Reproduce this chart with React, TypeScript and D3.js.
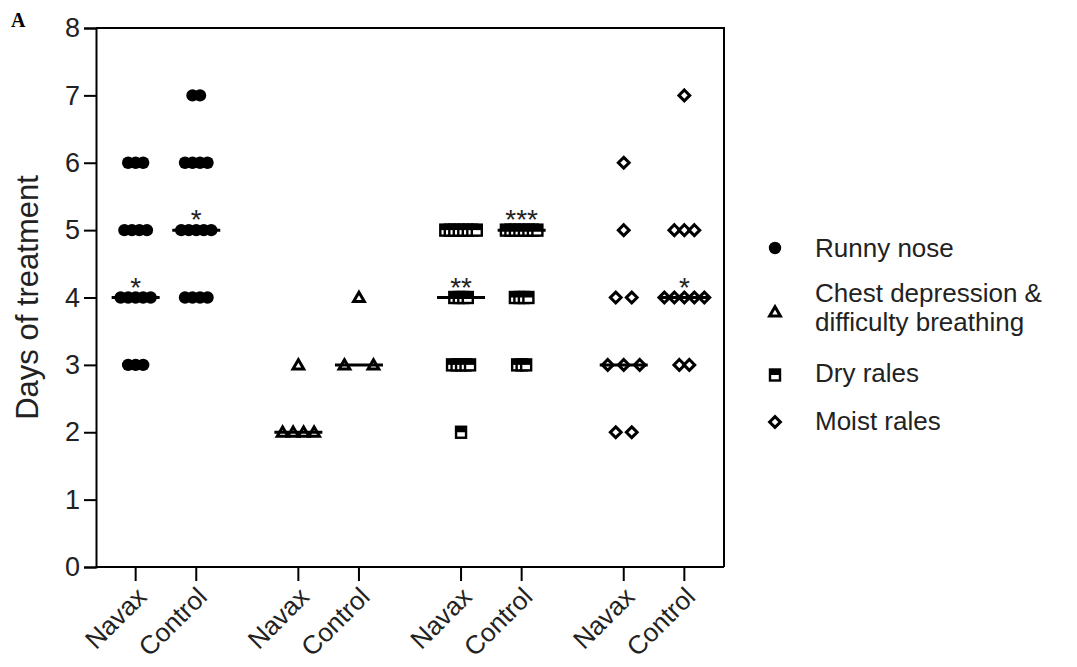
import React, { useEffect, useRef } from 'react';
import * as d3 from 'd3';

// symptom groups and arms, in the order they sit on the x axis
const groups = ['Runny nose', 'Chest depression & difficulty breathing', 'Dry rales', 'Moist rales'];
const arms = ['Navax', 'Control'];
const markers = ['circle', 'triangle', 'square', 'diamond'];

// days of treatment per animal
const runnyNavax = [6, 6, 6, 5, 5, 5, 5, 4, 4, 4, 4, 4, 3, 3, 3];
const runnyControl = [7, 7, 6, 6, 6, 6, 5, 5, 5, 5, 5, 4, 4, 4, 4];
const chestNavax = [3, 2, 2, 2, 2];
const chestControl = [4, 3, 3];
const dryNavax = [5, 5, 5, 5, 5, 5, 5, 5, 4, 4, 4, 4, 3, 3, 3, 3, 3, 2];
const dryControl = [5, 5, 5, 5, 5, 5, 5, 5, 4, 4, 4, 4, 3, 3, 3];
const moistNavax = [6, 5, 4, 4, 3, 3, 3, 2, 2];
const moistControl = [7, 5, 5, 5, 4, 4, 4, 4, 4, 3, 3];

const values = [
    [runnyNavax, runnyControl],
    [chestNavax, chestControl],
    [dryNavax, dryControl],
    [moistNavax, moistControl],
];

// significance marks: [group index, arm index, text]
const stars: [number, number, string][] = [
    [0, 0, '*'],
    [0, 1, '*'],
    [2, 0, '**'],
    [2, 1, '***'],
    [3, 1, '*'],
];

const yTicks = [0, 1, 2, 3, 4, 5, 6, 7, 8];
const yTitle = 'Days of treatment';
const legendLines = [['Runny nose'], ['Chest depression &', 'difficulty breathing'], ['Dry rales'], ['Moist rales']];

// how far apart the dots of one row are pushed, per column (px)
const spread = [
    [7.5, 7.5],
    [10.5, 29],
    [4.5, 4.5],
    [16, 10],
];

const font = '"Liberation Sans", Arial, Helvetica, sans-serif';
const ink = '#222';

type Sel = d3.Selection<SVGGElement, unknown, null, undefined>;

function marker(g: Sel, kind: string, x: number, y: number) {
    const m = g.append('g').attr('transform', `translate(${x},${y})`);
    if (kind === 'circle') {
        m.append('circle').attr('r', 6.2).attr('fill', '#000');
    } else if (kind === 'triangle') {
        m.append('path')
            .attr('d', d3.symbol(d3.symbolTriangle, 50)())
            .attr('transform', 'translate(0,1)')
            .attr('fill', '#fff')
            .attr('stroke', '#000')
            .attr('stroke-width', 3);
    } else if (kind === 'square') {
        m.append('rect').attr('x', -5).attr('y', -5.5).attr('width', 10).attr('height', 11)
            .attr('fill', '#fff').attr('stroke', '#000').attr('stroke-width', 2.4);
        m.append('rect').attr('x', -5).attr('y', -5.5).attr('width', 10).attr('height', 5.5)
            .attr('fill', '#000');
    } else {
        const h = 5.4;
        m.append('path')
            .attr('d', `M0,${-h}L${h},0L0,${h}L${-h},0Z`)
            .attr('fill', '#fff')
            .attr('stroke', '#000')
            .attr('stroke-width', 3);
    }
}

function draw(svgRoot: SVGSVGElement) {
    const width = 1077;
    const height = 667;
    const plot = { left: 96, right: 724, top: 28, bottom: 567 };

    const svg = d3.select(svgRoot);
    svg.selectChildren().remove();
    svg.attr('width', width).attr('height', height).attr('viewBox', [0, 0, width, height] as any);

    const g = svg.append('g') as unknown as Sel;

    const xGroup = d3.scalePoint<string>().domain(groups).range([plot.left, plot.right]).padding(0.43);
    const xArm = d3.scalePoint<string>().domain(arms).range([-30.3, 30.3]);
    const y = d3.scaleLinear().domain([0, 8]).range([plot.bottom, plot.top]);
    const colX = (gi: number, ai: number) => (xGroup(groups[gi]) ?? 0) + (xArm(arms[ai]) ?? 0);

    // frame: top and right sides
    g.append('path')
        .attr('d', `M${plot.left},${plot.top}H${plot.right}V${plot.bottom}`)
        .attr('fill', 'none')
        .attr('stroke', '#000')
        .attr('stroke-width', 2);

    // y axis
    const yAxis = g.append('g')
        .attr('transform', `translate(${plot.left},0)`)
        .call(d3.axisLeft(y).tickValues(yTicks).tickFormat(d3.format('d')).tickSize(12).tickPadding(4));
    yAxis.select('.domain').attr('stroke-width', 2);
    yAxis.selectAll('.tick line').attr('stroke-width', 2);
    yAxis.selectAll('.tick text')
        .attr('font-family', font)
        .attr('font-size', 27)
        .attr('fill', ink);

    // x axis: one tick per column
    const cols = groups.flatMap((_, gi) => arms.map((a, ai) => ({ gi, ai, a })));
    g.append('line')
        .attr('x1', plot.left).attr('x2', plot.right)
        .attr('y1', plot.bottom).attr('y2', plot.bottom)
        .attr('stroke', '#000').attr('stroke-width', 2);
    const xt = g.append('g').selectAll('g').data(cols).join('g')
        .attr('transform', (d) => `translate(${colX(d.gi, d.ai)},${plot.bottom})`);
    xt.append('line').attr('y2', 14).attr('stroke', '#000').attr('stroke-width', 2);
    xt.append('text')
        .attr('transform', 'translate(6,25) rotate(-45)')
        .attr('text-anchor', 'end')
        .attr('dy', '0.35em')
        .attr('font-family', font)
        .attr('font-size', 26)
        .attr('fill', ink)
        .text((d) => d.a);

    // y title
    g.append('text')
        .attr('transform', `translate(38,${(plot.top + plot.bottom) / 2}) rotate(-90)`)
        .attr('text-anchor', 'middle')
        .attr('font-family', font)
        .attr('font-size', 31)
        .attr('fill', ink)
        .text(yTitle);

    // panel letter
    g.append('text')
        .attr('x', 11).attr('y', 27)
        .attr('font-family', '"Liberation Serif", "Times New Roman", serif')
        .attr('font-weight', 'bold')
        .attr('font-size', 20)
        .text('A');

    // dots and medians
    values.forEach((pair, gi) => {
        pair.forEach((vals, ai) => {
            const cx = colX(gi, ai);
            const rows = d3.groups(vals, (v) => v);
            rows.forEach(([v, list]) => {
                const n = list.length;
                list.forEach((_, i) => {
                    marker(g, markers[gi], cx + (i - (n - 1) / 2) * spread[gi][ai], y(v));
                });
            });
            const med = d3.median(vals) ?? 0;
            g.append('line')
                .attr('x1', cx - 24).attr('x2', cx + 24)
                .attr('y1', y(med)).attr('y2', y(med))
                .attr('stroke', '#000')
                .attr('stroke-width', 3);
        });
    });

    // significance stars sit just above the median row
    g.append('g').selectAll('text').data(stars).join('text')
        .attr('x', (d) => colX(d[0], d[1]))
        .attr('y', (d) => y(d3.median(values[d[0]][d[1]]) ?? 0) - 1)
        .attr('text-anchor', 'middle')
        .attr('font-family', font)
        .attr('font-size', 28)
        .attr('fill', ink)
        .text((d) => d[2]);

    // legend
    const legendY = [248, 312, 375, 422];
    const baseY = [257, 302, 382, 430];
    legendLines.forEach((lines, i) => {
        marker(g, markers[i], 775, legendY[i]);
        lines.forEach((line, j) => {
            g.append('text')
                .attr('x', 815)
                .attr('y', baseY[i] + j * 29)
                .attr('font-family', font)
                .attr('font-size', 26)
                .attr('fill', ink)
                .text(line);
        });
    });
}

export default function App() {
    const svgRef = useRef<SVGSVGElement>(null);

    useEffect(() => {
        svgRef.current && draw(svgRef.current);
    }, []);

    return (
        <svg ref={svgRef} style={{ position: 'absolute', left: 0, top: 0, background: '#fff' }} />
    );
}
